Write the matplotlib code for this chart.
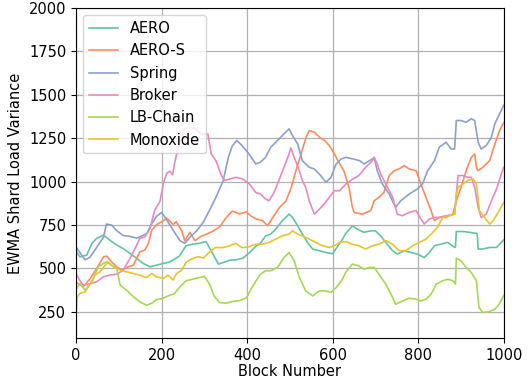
import matplotlib
matplotlib.use("Agg")
import matplotlib.pyplot as plt

# Block positions and EWMA variance values
aero_x = [0, 9, 25, 37, 48, 64, 79, 95, 110, 126, 142, 157, 173, 188, 204, 219, 241, 257, 273, 288,
          304, 316, 333, 345, 360, 375, 390, 405, 421, 431, 443, 455, 467, 482, 498, 506, 518, 529,
          541, 553, 569, 584, 600, 612, 623, 630, 646, 657, 673, 689, 700, 712, 724, 740, 751, 767,
          783, 798, 814, 826, 838, 853, 869, 885, 887, 889, 904, 920, 936, 938, 940, 951, 967, 983,
          994, 1000]
aero_y = [600, 567, 577, 644, 673, 692, 663, 635, 615, 587, 558, 529, 510, 519, 529, 538, 570, 631, 640, 645,
          655, 600, 525, 535, 548, 550, 560, 590, 630, 645, 688, 698, 727, 775, 813, 794, 746, 698,
          650, 612, 602, 592, 585, 630, 669, 700, 746, 727, 708, 717, 717, 688, 650, 602, 583, 602,
          592, 583, 563, 592, 631, 640, 650, 621, 625, 713, 713, 708, 702, 700, 612, 612, 621, 621,
          650, 665]

aeros_x = [0, 5, 17, 33, 48, 64, 72, 83, 95, 107, 122, 134, 149, 161, 169, 177, 188, 200, 212, 227,
           234, 247, 254, 266, 278, 292, 305, 320, 336, 350, 365, 382, 398, 410, 421, 436, 448, 460,
           475, 491, 503, 514, 526, 538, 545, 557, 569, 581, 592, 604, 612, 626, 638, 646, 650, 669,
           689, 697, 708, 720, 732, 744, 755, 767, 779, 795, 806, 818, 830, 838, 849, 865, 881, 889,
           900, 912, 924, 932, 936, 940, 951, 967, 979, 990, 1000]
aeros_y = [420, 413, 394, 442, 500, 567, 571, 538, 510, 490, 510, 519, 596, 606, 644, 721, 752, 769, 790, 753,
           770, 717, 660, 708, 660, 685, 698, 715, 740, 790, 830, 815, 825, 800, 785, 775, 746, 794,
           850, 890, 967, 1063, 1160, 1256, 1294, 1285, 1256, 1237, 1208, 1160, 1121, 1063, 967, 852, 823, 813,
           833, 890, 910, 939, 1035, 1063, 1073, 1092, 1073, 1063, 987, 910, 833, 775, 794, 794, 813, 890,
           967, 1063, 1140, 1160, 1080, 1063, 1083, 1121, 1217, 1294, 1340]

spring_x = [0, 6, 21, 32, 48, 64, 71, 83, 95, 110, 126, 142, 165, 177, 188, 200, 212, 227, 243, 254,
            266, 282, 297, 313, 328, 344, 356, 365, 376, 388, 404, 420, 431, 443, 455, 471, 486, 498,
            506, 518, 529, 545, 557, 572, 584, 596, 608, 620, 631, 647, 663, 673, 693, 697, 704, 716,
            732, 747, 759, 779, 798, 810, 822, 838, 849, 865, 877, 885, 889, 900, 912, 924, 932, 940,
            947, 959, 971, 979, 990, 1000]
spring_y = [625, 602, 550, 563, 621, 679, 756, 750, 718, 690, 685, 675, 700, 758, 800, 823, 780, 720, 660, 645,
            679, 717, 765, 840, 915, 1006, 1140, 1205, 1237, 1208, 1160, 1102, 1112, 1140, 1198, 1237, 1275, 1304,
            1265, 1217, 1121, 1083, 1073, 1035, 996, 1025, 1102, 1131, 1140, 1131, 1121, 1102, 1131, 1140, 1063, 987,
            929, 852, 890, 929, 958, 987, 1063, 1121, 1198, 1227, 1188, 1188, 1352, 1352, 1342, 1362, 1352, 1227,
            1188, 1208, 1256, 1333, 1390, 1440]

broker_x = [0, 9, 17, 33, 48, 64, 79, 95, 110, 126, 138, 149, 161, 173, 184, 196, 204, 212, 219, 226,
            230, 237, 245, 253, 265, 280, 292, 308, 316, 327, 339, 347, 359, 374, 390, 405, 420, 431,
            443, 451, 463, 474, 486, 498, 502, 510, 522, 529, 537, 545, 557, 569, 580, 592, 604, 616,
            631, 647, 661, 677, 693, 697, 704, 712, 724, 740, 751, 763, 779, 795, 806, 814, 826, 838,
            849, 865, 885, 893, 904, 916, 924, 932, 940, 947, 959, 971, 983, 994, 1000]
broker_y = [470, 430, 404, 413, 423, 452, 462, 467, 490, 558, 615, 673, 683, 731, 837, 885, 990, 1048, 1060, 1040,
            1102, 1179, 1237, 1304, 1313, 1304, 1275, 1275, 1160, 1120, 1040, 1006, 1015, 1025, 1015, 987, 938, 929,
            900, 890, 938, 1006, 1083, 1160, 1194, 1140, 1063, 1006, 967, 890, 813, 842, 871, 910, 948, 948,
            987, 1015, 1035, 1083, 1121, 1140, 1102, 1044, 987, 910, 813, 804, 823, 833, 785, 756, 785, 794,
            794, 804, 813, 1035, 1035, 1025, 1025, 967, 852, 794, 813, 890, 958, 1044, 1083]

lbchain_x = [0, 9, 21, 37, 52, 64, 72, 83, 95, 103, 118, 134, 149, 165, 177, 188, 204, 219, 230, 241,
             257, 273, 288, 300, 312, 322, 335, 351, 366, 382, 398, 409, 421, 431, 443, 455, 471, 486,
             498, 510, 522, 537, 553, 569, 584, 596, 608, 623, 630, 646, 661, 673, 685, 697, 708, 724,
             740, 747, 763, 779, 795, 806, 818, 830, 842, 857, 869, 881, 887, 889, 900, 912, 924, 936,
             942, 951, 967, 979, 989, 1000]
lbchain_y = [380, 413, 375, 423, 510, 529, 538, 519, 500, 404, 375, 337, 308, 288, 300, 320, 330, 346, 355, 390,
             429, 438, 448, 455, 410, 345, 304, 300, 310, 315, 330, 381, 430, 467, 487, 487, 506, 563,
             592, 544, 448, 371, 342, 371, 371, 362, 390, 438, 477, 525, 515, 496, 506, 506, 467, 410,
             333, 294, 313, 329, 323, 313, 323, 352, 410, 429, 438, 429, 410, 560, 544, 506, 477, 429,
             275, 246, 252, 265, 294, 345]

monox_x = [0, 3, 9, 21, 33, 44, 56, 68, 75, 87, 103, 118, 134, 149, 165, 177, 188, 204, 215, 227,
           235, 247, 257, 269, 286, 298, 310, 326, 341, 357, 373, 388, 404, 420, 435, 451, 467, 482,
           498, 506, 518, 529, 545, 561, 576, 592, 604, 616, 631, 646, 661, 677, 693, 708, 724, 740,
           755, 771, 787, 802, 818, 834, 845, 857, 873, 885, 889, 893, 904, 916, 928, 936, 943, 955,
           967, 975, 987, 1000]
monox_y = [240, 337, 356, 365, 413, 462, 481, 519, 538, 510, 490, 481, 471, 462, 448, 471, 452, 442, 462, 433,
           471, 490, 535, 554, 568, 560, 590, 621, 620, 628, 645, 620, 625, 640, 640, 650, 669, 688,
           698, 717, 698, 688, 669, 650, 631, 621, 631, 650, 655, 640, 631, 612, 631, 640, 660, 640,
           602, 602, 631, 650, 669, 708, 737, 794, 804, 813, 929, 967, 987, 1006, 1015, 987, 833, 794,
           756, 775, 823, 881]

series = [
    ("AERO", aero_x, aero_y, "#66c2a5"),
    ("AERO-S", aeros_x, aeros_y, "#fc8d62"),
    ("Spring", spring_x, spring_y, "#8da0cb"),
    ("Broker", broker_x, broker_y, "#e78ac3"),
    ("LB-Chain", lbchain_x, lbchain_y, "#a6d854"),
    ("Monoxide", monox_x, monox_y, "#e5c62f"),
]

plt.rcParams['font.size'] = 10.5

fig, ax = plt.subplots(figsize=(5.32, 3.81), dpi=100)
fig.subplots_adjust(left=0.143, right=0.947, top=0.979, bottom=0.113)

for name, xs, ys, color in series:
    ax.plot(xs, ys, color=color, linewidth=1.2, label=name)

ax.set_xlim(0, 1000)
ax.set_ylim(100, 2000)
ax.set_yticks([250, 500, 750, 1000, 1250, 1500, 1750, 2000])
ax.set_xticks([0, 200, 400, 600, 800, 1000])
ax.grid(True, color="#b0b0b0", linewidth=0.9)
ax.set_xlabel("Block Number", labelpad=1)
ax.set_ylabel("EWMA Shard Load Variance")
ax.legend(loc="upper left", fontsize=10.5)

fig.savefig("out.png", dpi=100)
